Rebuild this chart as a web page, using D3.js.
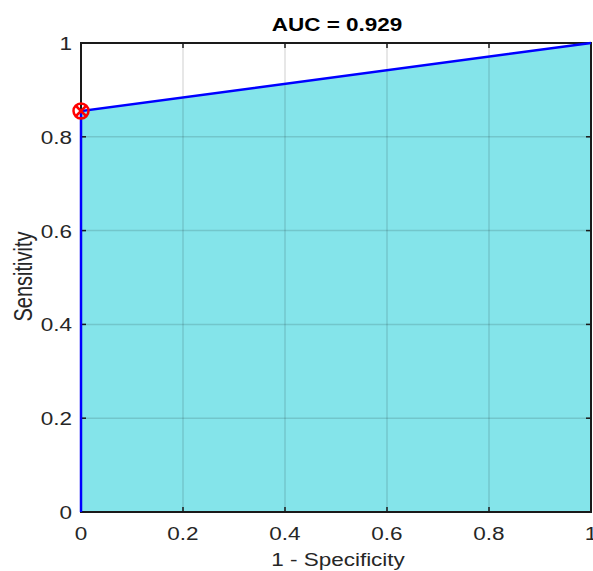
<!DOCTYPE html>
<html><head><meta charset="utf-8">
<script src="https://cdn.jsdelivr.net/npm/d3@7"></script>
<style>body{margin:0;background:#fff}svg{display:block}</style>
</head><body>
<svg id="c" width="593" height="571"></svg>
<script>
const fpr = [0, 0, 1];
const tpr = [0, 0.855, 1];
const optPoint = [0, 0.855];
const ticks = [0, 0.2, 0.4, 0.6, 0.8, 1];
const tickLabels = ["0", "0.2", "0.4", "0.6", "0.8", "1"];
const titleText = "AUC = 0.929";
const xLabel = "1 - Specificity";
const yLabel = "Sensitivity";

const svg = d3.select("#c");
const L = 81, R = 591, T = 43, B = 512;
const x = d3.scaleLinear().domain([0, 1]).range([L, R]);
const y = d3.scaleLinear().domain([0, 1]).range([B, T]);
const font = "Liberation Sans, Arial, sans-serif";
const SX = 1.25;

// area
const area = d3.area().x((d,i)=>x(fpr[i])).y0(y(0)).y1((d,i)=>y(tpr[i]));
svg.append("path").datum(fpr).attr("d", area).attr("fill", "#84e4ea");

// grid
const g = svg.append("g");
ticks.forEach(t => {
  g.append("line").attr("x1", x(t)).attr("x2", x(t)).attr("y1", T).attr("y2", B)
    .attr("stroke", "rgba(0,0,0,0.13)").attr("stroke-width", 1.5);
  g.append("line").attr("x1", L).attr("x2", R).attr("y1", y(t)).attr("y2", y(t))
    .attr("stroke", "rgba(0,0,0,0.13)").attr("stroke-width", 1.5);
});

// axes box
svg.append("rect").attr("x", L).attr("y", T).attr("width", R-L).attr("height", B-T)
  .attr("fill", "none").attr("stroke", "#1a1a1a").attr("stroke-width", 2);

// tick marks inward
ticks.forEach(t => {
  svg.append("line").attr("x1", x(t)).attr("x2", x(t)).attr("y1", B).attr("y2", B-5).attr("stroke","#1a1a1a").attr("stroke-width",1.5);
  svg.append("line").attr("x1", x(t)).attr("x2", x(t)).attr("y1", T).attr("y2", T+5).attr("stroke","#1a1a1a").attr("stroke-width",1.5);
  svg.append("line").attr("x1", L).attr("x2", L+5).attr("y1", y(t)).attr("y2", y(t)).attr("stroke","#1a1a1a").attr("stroke-width",1.5);
  svg.append("line").attr("x1", R).attr("x2", R-5).attr("y1", y(t)).attr("y2", y(t)).attr("stroke","#1a1a1a").attr("stroke-width",1.5);
});

// tick labels
ticks.forEach((t,i) => {
  svg.append("text").attr("transform", `translate(${x(t)},${B+28}) scale(${SX},1)`).attr("text-anchor","middle")
    .attr("font-family", font).attr("font-size", 18).attr("fill", "#262626").text(tickLabels[i]);
  svg.append("text").attr("transform", `translate(${L-9},${y(t)+7}) scale(${SX},1)`).attr("text-anchor","end")
    .attr("font-family", font).attr("font-size", 18).attr("fill", "#262626").text(tickLabels[i]);
});

// ROC line
const line = d3.line().x((d,i)=>x(fpr[i])).y((d,i)=>y(tpr[i]));
svg.append("path").datum(fpr).attr("d", line).attr("fill","none").attr("stroke","#0000ff").attr("stroke-width",2.5);

// optimal point marker
const mx = x(optPoint[0]), my = y(optPoint[1]);
svg.append("ellipse").attr("cx", mx).attr("cy", my).attr("rx", 7.5).attr("ry", 7.5).attr("fill","none").attr("stroke","#ff0000").attr("stroke-width",2.5);
const d = 5.5;
svg.append("line").attr("x1", mx-d).attr("y1", my-d).attr("x2", mx+d).attr("y2", my+d).attr("stroke","#ff0000").attr("stroke-width",2.5);
svg.append("line").attr("x1", mx-d).attr("y1", my+d).attr("x2", mx+d).attr("y2", my-d).attr("stroke","#ff0000").attr("stroke-width",2.5);

// title & labels
svg.append("text").attr("transform", `translate(${(L+R)/2 + 1},31) scale(${SX},1)`).attr("text-anchor","middle")
  .attr("font-family", font).attr("font-size", 18).attr("font-weight","bold").attr("fill","#000").text(titleText);
svg.append("text").attr("transform", `translate(${(L+R)/2 + 2},566) scale(${SX},1)`).attr("text-anchor","middle")
  .attr("font-family", font).attr("font-size", 18).attr("fill","#262626").text(xLabel);
svg.append("text").attr("transform", `translate(32,${(T+B)/2 - 1}) scale(${SX},1) rotate(-90)`).attr("text-anchor","middle")
  .attr("font-family", font).attr("font-size", 20).attr("fill","#262626").text(yLabel);
</script>
</body></html>
